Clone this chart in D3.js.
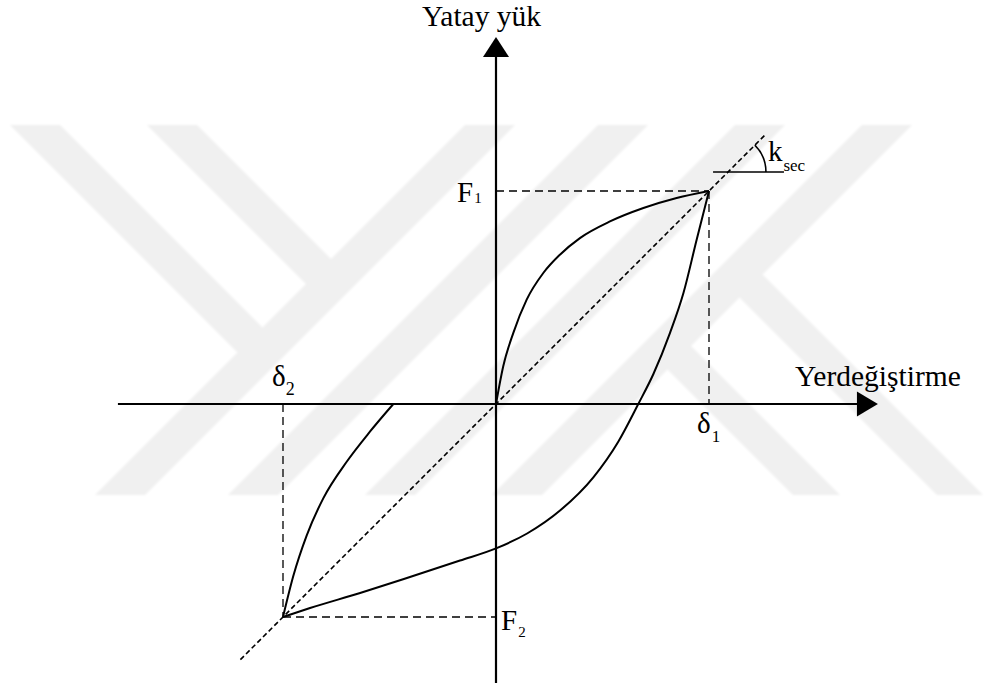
<!DOCTYPE html>
<html>
<head>
<meta charset="utf-8">
<script src="https://cdn.jsdelivr.net/npm/d3@7"></script>
<style>
  html, body { margin: 0; padding: 0; background: #fff; }
  svg { display: block; }
</style>
</head>
<body>
<svg id="chart" width="984" height="687"></svg>
<script>
// Hysteresis loop, normalised so that δ1 = F1 = 1 (displacement, load)
const loadingBranch = [
  [0, 0], [0.034, 0.177], [0.081, 0.333], [0.144, 0.490], [0.222, 0.615],
  [0.300, 0.701], [0.394, 0.779], [0.535, 0.857], [0.692, 0.920], [0.848, 0.967], [1, 1]
];
const unloadingBranch = [
  [1, 1], [0.942, 0.771], [0.880, 0.521], [0.817, 0.334], [0.739, 0.141], [0.668, 0],
  [0.574, -0.177], [0.458, -0.343], [0.302, -0.499], [0.146, -0.608], [0, -0.678],
  [-0.169, -0.735], [-0.404, -0.812], [-0.638, -0.887], [-0.873, -0.958], [-1, -1]
];
const reloadingBranch = [
  [-1, -1], [-0.952, -0.809], [-0.889, -0.618], [-0.811, -0.443],
  [-0.701, -0.271], [-0.592, -0.130], [-0.482, 0]
];
const peakPositive = [1, 1];    // δ1, F1
const peakNegative = [-1, -1];  // δ2, F2
const secantExtent = [-1.2, 1.265];
const ksecLevel = 1.089;
const ksecTick = [1.019, 1.352];
const xAxisExtent = [-1.775, 1.793];
const yAxisExtent = [-1.31, 1.723];
const axisTitles = { x: "Yerdeğiştirme", y: "Yatay yük" };

const serif = "'Liberation Serif', 'Times New Roman', serif";
const svg = d3.select("#chart");

// Faint striped watermark behind the diagram (pixel layout)
const wmTop = 125, wmBottom = 495, wmBand = 50, wmRise = wmBottom - wmTop;
const slashFeet = [95, 228, 365, 492];
const defs = svg.append("defs");
defs.append("filter").attr("id", "soft")
  .append("feGaussianBlur").attr("stdDeviation", 1.2);
const wm = svg.append("g").attr("fill", "#f0f0f0").attr("filter", "url(#soft)");
slashFeet.forEach(xb => {
  wm.append("polygon").attr("points", [
    [xb, wmBottom], [xb + wmBand, wmBottom],
    [xb + wmBand + wmRise, wmTop], [xb + wmRise, wmTop]
  ].map(p => p.join(",")).join(" "));
});
const backslashBands = [
  [[10, 125], [60, 125], [275, 340], [250, 365]],
  [[147, 125], [197, 125], [343.5, 271.5], [318.5, 296.5]],
  [[678.5, 333.5], [655, 357], [793, 495], [840, 495]],
  [[750, 262], [727, 285], [937, 495], [983, 495]]
];
backslashBands.forEach(pts => {
  wm.append("polygon").attr("points", pts.map(p => p.join(",")).join(" "));
});

// Scales: equal pixel size per unit on both axes
const x = d3.scaleLinear().domain([-1, 1]).range([283, 709]);
const y = d3.scaleLinear().domain([-1, 1]).range([617, 191]);

const g = svg.append("g");

// Dashed reference lines to the peak points
const guide = (a, b) => g.append("line")
  .attr("x1", x(a[0])).attr("y1", y(a[1]))
  .attr("x2", x(b[0])).attr("y2", y(b[1]))
  .attr("stroke", "#000").attr("stroke-width", 1.3)
  .attr("stroke-dasharray", "8,5");
guide([0, peakPositive[1]], peakPositive);
guide(peakPositive, [peakPositive[0], 0]);
guide([peakNegative[0], 0], peakNegative);
guide(peakNegative, [0, peakNegative[1]]);

// Secant stiffness line through the origin and both peaks
const slope = peakPositive[1] / peakPositive[0];
g.append("line")
  .attr("x1", x(secantExtent[0])).attr("y1", y(secantExtent[0] * slope))
  .attr("x2", x(secantExtent[1])).attr("y2", y(secantExtent[1] * slope))
  .attr("stroke", "#000").attr("stroke-width", 1.6)
  .attr("stroke-dasharray", "5,3");

// Axes
g.append("line")
  .attr("x1", x(xAxisExtent[0])).attr("y1", y(0))
  .attr("x2", x(xAxisExtent[1]) - 20).attr("y2", y(0))
  .attr("stroke", "#000").attr("stroke-width", 2);
g.append("path")
  .attr("d", `M${x(xAxisExtent[1])},${y(0)} l-21,-12.5 l0,25 Z`)
  .attr("fill", "#000");
g.append("line")
  .attr("x1", x(0)).attr("y1", y(yAxisExtent[0]))
  .attr("x2", x(0)).attr("y2", y(yAxisExtent[1]) + 19)
  .attr("stroke", "#000").attr("stroke-width", 2.2);
g.append("path")
  .attr("d", `M${x(0)},${y(yAxisExtent[1])} l-13,20 l26,0 Z`)
  .attr("fill", "#000");

// Loop branches
const line = d3.line()
  .x(d => x(d[0])).y(d => y(d[1]))
  .curve(d3.curveMonotoneX);
[loadingBranch, unloadingBranch.slice().reverse(), reloadingBranch].forEach(branch => {
  g.append("path").attr("d", line(branch))
    .attr("fill", "none").attr("stroke", "#000").attr("stroke-width", 2);
});

// k_sec angle marker
const kx = x(ksecLevel / slope), ky = y(ksecLevel);
g.append("line")
  .attr("x1", x(ksecTick[0])).attr("y1", ky)
  .attr("x2", x(ksecTick[1])).attr("y2", ky)
  .attr("stroke", "#000").attr("stroke-width", 1.6);
const arc = d3.path();
arc.arc(kx, ky, 38, -Math.atan(slope), 0);
g.append("path").attr("d", arc.toString())
  .attr("fill", "none").attr("stroke", "#000").attr("stroke-width", 1.6);

// Labels
function label(px, py, main, sub, size, subSize, subDx, subDy) {
  const t = g.append("text").attr("x", px).attr("y", py)
    .style("font-family", serif).attr("font-size", size).attr("fill", "#000");
  t.append("tspan").text(main);
  if (sub) {
    t.append("tspan").attr("dx", subDx).attr("dy", subDy)
      .attr("font-size", subSize).text(sub);
  }
  return t;
}
label(x(0) - 14.5, 26, axisTitles.y, null, 29.5).attr("text-anchor", "middle");
label(795, y(0) - 18, axisTitles.x, null, 29.5);
label(x(0) - 39, y(peakPositive[1]) + 11, "F", "1", 29, 15, 1, 1);
label(x(0) + 5, y(peakNegative[1]) + 13, "F", "2", 29, 15, 1, 7);
label(x(peakPositive[0]) - 12, y(0) + 29, "δ", "1", 29, 17, 1, 9);
label(x(peakNegative[0]) - 11, y(0) - 18, "δ", "2", 29, 18, 0, 9);
label(kx + 40, ky - 11, "k", "sec", 29, 17, 1, 10);
</script>
</body>
</html>
